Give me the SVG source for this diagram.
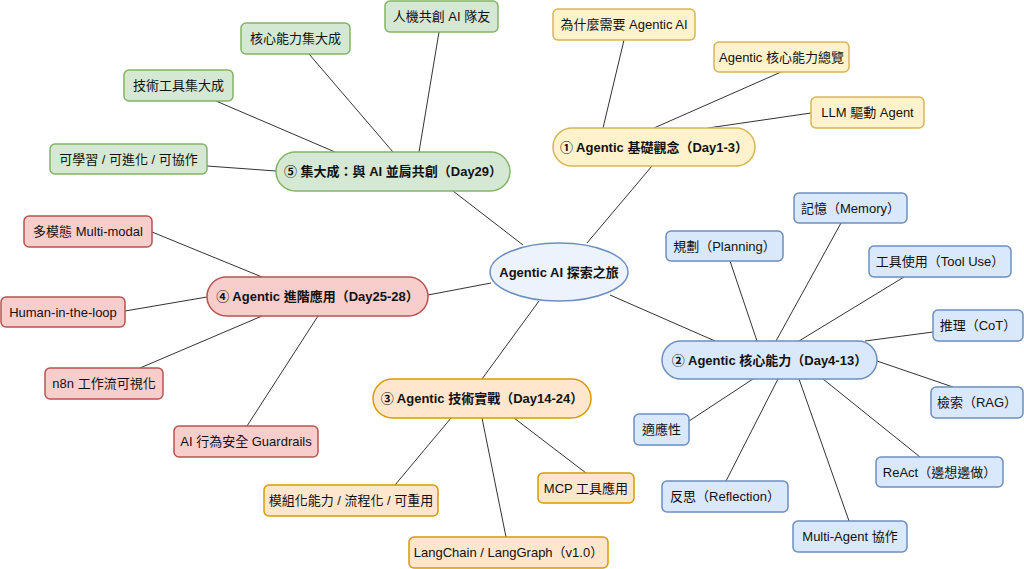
<svg xmlns="http://www.w3.org/2000/svg" width="1024" height="569" viewBox="0 0 1024 569">
<style>
text{font-family:"Liberation Sans","Noto Sans CJK TC",sans-serif;font-size:13px;fill:#111;text-anchor:middle;dominant-baseline:central}
.b{font-weight:bold}
.c{font-size:13px;font-weight:bold}
rect,ellipse{stroke-width:1.5}
.y{fill:#fff2cc;stroke:#d6b656}
.bl{fill:#dae8fc;stroke:#6c8ebf}
.g{fill:#d5e8d4;stroke:#82b366}
.r{fill:#f8cecc;stroke:#b85450}
.o{fill:#ffe6cc;stroke:#d79b00}
#edges line{stroke:#333;stroke-width:1}
</style>
<rect width="1024" height="569" fill="#fff"/>
<g id="edges">
<line x1="587" y1="243" x2="652" y2="166"/>
<line x1="624" y1="40" x2="603" y2="128"/>
<line x1="781" y1="72" x2="654" y2="128"/>
<line x1="811" y1="113" x2="708" y2="128"/>
<line x1="523" y1="245" x2="453" y2="191"/>
<line x1="439" y1="32" x2="419" y2="152"/>
<line x1="309" y1="54" x2="393" y2="152"/>
<line x1="216" y1="101" x2="335" y2="152"/>
<line x1="207" y1="166" x2="276" y2="171"/>
<line x1="491" y1="283" x2="428" y2="295"/>
<line x1="152" y1="232" x2="262" y2="277"/>
<line x1="125" y1="311" x2="207" y2="297"/>
<line x1="140" y1="368" x2="262" y2="316"/>
<line x1="247" y1="426" x2="318" y2="316"/>
<line x1="539" y1="301" x2="482" y2="379"/>
<line x1="395" y1="485" x2="451" y2="418"/>
<line x1="506" y1="537" x2="482" y2="418"/>
<line x1="586" y1="473" x2="514" y2="418"/>
<line x1="610" y1="295" x2="715" y2="341"/>
<line x1="841" y1="223" x2="776" y2="341"/>
<line x1="730" y1="261" x2="757" y2="341"/>
<line x1="904" y1="277" x2="799" y2="341"/>
<line x1="933" y1="332" x2="865" y2="341"/>
<line x1="953" y1="387" x2="877" y2="361"/>
<line x1="689" y1="421" x2="753" y2="379"/>
<line x1="920" y1="457" x2="823" y2="379"/>
<line x1="726" y1="481" x2="778" y2="379"/>
<line x1="849" y1="521" x2="799" y2="379"/>
</g>
<g id="center"><ellipse class="bl" cx="559" cy="272" rx="69" ry="29" style="fill:#edf3fc"/><text class="c" x="559" y="272">Agentic AI 探索之旅</text></g>

<g id="n1"><rect class="y" x="553" y="128" width="202" height="38" rx="19"/><text class="b" x="654" y="147">① Agentic 基礎觀念（Day1-3）</text></g>
<g id="n1a"><rect class="y" x="553" y="9" width="142" height="31" rx="5"/><text x="624" y="24.5">為什麼需要 Agentic AI</text></g>
<g id="n1b"><rect class="y" x="714" y="42" width="135" height="30" rx="5"/><text x="781.5" y="57">Agentic 核心能力總覽</text></g>
<g id="n1c"><rect class="y" x="811" y="97" width="113" height="31" rx="5"/><text x="867.5" y="112.5">LLM 驅動 Agent</text></g>

<g id="n5"><rect class="g" x="276" y="152" width="234" height="39" rx="19.5"/><text class="b" x="393" y="171.5">⑤ 集大成：與 AI 並肩共創（Day29）</text></g>
<g id="n5a"><rect class="g" x="385" y="1" width="113" height="31" rx="5"/><text x="441.5" y="16.5">人機共創 AI 隊友</text></g>
<g id="n5b"><rect class="g" x="241" y="23" width="109" height="31" rx="5"/><text x="295.5" y="38.5">核心能力集大成</text></g>
<g id="n5c"><rect class="g" x="124" y="70" width="109" height="31" rx="5"/><text x="178.5" y="85.5">技術工具集大成</text></g>
<g id="n5d"><rect class="g" x="50" y="144" width="157" height="30" rx="5"/><text x="128.5" y="159">可學習 / 可進化 / 可協作</text></g>

<g id="n4"><rect class="r" x="207" y="277" width="221" height="39" rx="19.5"/><text class="b" x="317.5" y="296.5">④ Agentic 進階應用（Day25-28）</text></g>
<g id="n4a"><rect class="r" x="24" y="216" width="128" height="31" rx="5"/><text x="88" y="231.5">多模態 Multi-modal</text></g>
<g id="n4b"><rect class="r" x="1" y="297" width="124" height="30" rx="5"/><text x="63" y="312">Human-in-the-loop</text></g>
<g id="n4c"><rect class="r" x="45" y="368" width="118" height="31" rx="5"/><text x="104" y="383.5">n8n 工作流可視化</text></g>
<g id="n4d"><rect class="r" x="174" y="426" width="144" height="31" rx="5"/><text x="246" y="441.5">AI 行為安全 Guardrails</text></g>

<g id="n3"><rect class="o" x="373" y="379" width="218" height="39" rx="19.5"/><text class="b" x="482" y="398.5">③ Agentic 技術實戰（Day14-24）</text></g>
<g id="n3a"><rect class="o" x="264" y="485" width="174" height="31" rx="5"/><text x="351" y="500.5">模組化能力 / 流程化 / 可重用</text></g>
<g id="n3b"><rect class="o" x="409" y="537" width="199" height="31" rx="5"/><text x="508.5" y="552.5">LangChain / LangGraph（v1.0）</text></g>
<g id="n3c"><rect class="o" x="538" y="473" width="96" height="30" rx="5"/><text x="586" y="488">MCP 工具應用</text></g>

<g id="n2"><rect class="bl" x="662" y="341" width="215" height="38" rx="19"/><text class="b" x="769.5" y="360">②  Agentic 核心能力（Day4-13）</text></g>
<g id="n2a"><rect class="bl" x="794" y="193" width="113" height="30" rx="5"/><text x="850.5" y="208">記憶（Memory）</text></g>
<g id="n2b"><rect class="bl" x="666" y="231" width="117" height="30" rx="5"/><text x="724.5" y="246">規劃（Planning）</text></g>
<g id="n2c"><rect class="bl" x="869" y="246" width="142" height="31" rx="5"/><text x="940" y="261.5">工具使用（Tool Use）</text></g>
<g id="n2d"><rect class="bl" x="933" y="310" width="90" height="31" rx="5"/><text x="978" y="325.5">推理（CoT）</text></g>
<g id="n2e"><rect class="bl" x="931" y="387" width="92" height="31" rx="5"/><text x="977" y="402.5">檢索（RAG）</text></g>
<g id="n2f"><rect class="bl" x="634" y="414" width="55" height="31" rx="5"/><text x="661.5" y="429.5">適應性</text></g>
<g id="n2g"><rect class="bl" x="876" y="457" width="127" height="30" rx="5"/><text x="939.5" y="472">ReAct（邊想邊做）</text></g>
<g id="n2h"><rect class="bl" x="662" y="481" width="126" height="31" rx="5"/><text x="725" y="496.5">反思（Reflection）</text></g>
<g id="n2i"><rect class="bl" x="793" y="521" width="114" height="31" rx="5"/><text x="850" y="536.5">Multi-Agent 協作</text></g>
</svg>
